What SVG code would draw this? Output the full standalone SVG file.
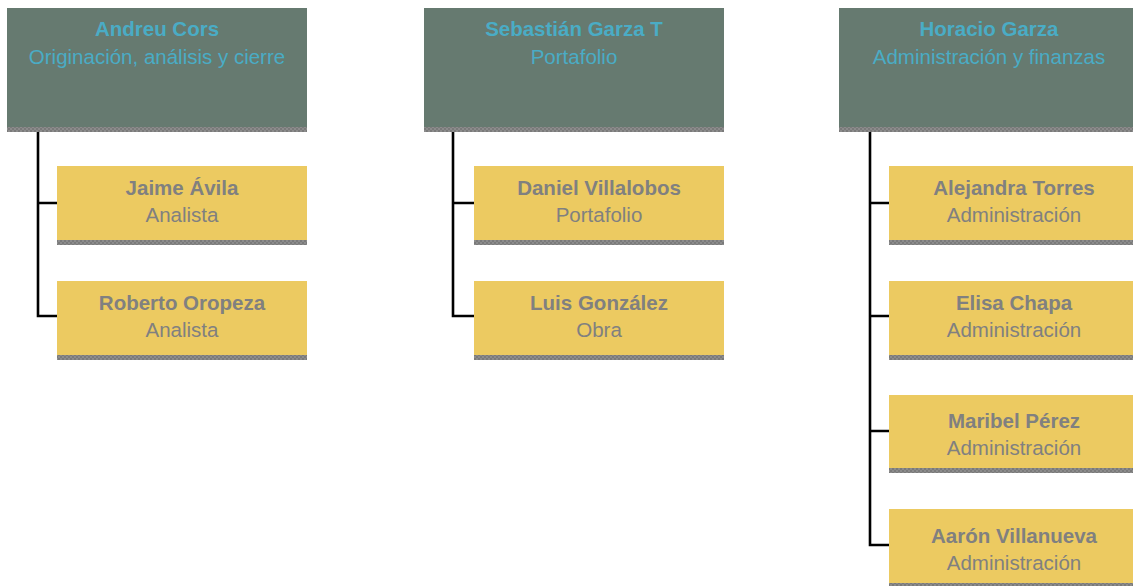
<svg xmlns="http://www.w3.org/2000/svg" width="1133" height="586" viewBox="0 0 1133 586">
<defs>
<pattern id="chk" width="4" height="4" patternUnits="userSpaceOnUse">
<rect width="4" height="4" fill="#8c8c8c"/>
<rect width="2" height="2" fill="#7a7a7a"/>
<rect x="2" y="2" width="2" height="2" fill="#7a7a7a"/>
</pattern>
</defs>
<style>
.top{fill:#667a70}
.child{fill:#ecca61}
.band{fill:url(#chk)}
.tn{font-family:"Liberation Sans",Arial,sans-serif;font-size:20.5px;font-weight:bold;fill:#4aacc5;text-anchor:middle}
.ts{font-family:"Liberation Sans",Arial,sans-serif;font-size:20.5px;fill:#4aacc5;text-anchor:middle}
.cn{font-family:"Liberation Sans",Arial,sans-serif;font-size:20.5px;font-weight:bold;fill:#808080;text-anchor:middle}
.cs{font-family:"Liberation Sans",Arial,sans-serif;font-size:20.5px;fill:#808080;text-anchor:middle}
.ln{fill:none;stroke:#000;stroke-width:2.6}
</style>
<rect width="1133" height="586" fill="#fff"/>
<g id="connectors">
<path class="ln" d="M38 127V316H57M38 203H57"/>
<path class="ln" d="M453 127V316H474M453 203H474"/>
<path class="ln" d="M870 127V545H889M870 203H889M870 316H889M870 431H889"/>
</g>
<g id="andreu-cors">
<rect class="top" x="7" y="8" width="300" height="119"/>
<rect class="band" x="7" y="127" width="300" height="5"/>
<text class="tn" x="157" y="36">Andreu Cors</text>
<text class="ts" x="157" y="64">Originación, análisis y cierre</text>
</g>
<g id="sebastian-garza">
<rect class="top" x="424" y="8" width="300" height="119"/>
<rect class="band" x="424" y="127" width="300" height="5"/>
<text class="tn" x="574" y="36">Sebastián Garza T</text>
<text class="ts" x="574" y="64">Portafolio</text>
</g>
<g id="horacio-garza">
<rect class="top" x="839" y="8" width="300" height="119"/>
<rect class="band" x="839" y="127" width="300" height="5"/>
<text class="tn" x="989" y="36">Horacio Garza</text>
<text class="ts" x="989" y="64">Administración y finanzas</text>
</g>
<g id="jaime-avila">
<rect class="child" x="57" y="166" width="250" height="74"/>
<rect class="band" x="57" y="240" width="250" height="5"/>
<text class="cn" x="182" y="195">Jaime Ávila</text>
<text class="cs" x="182" y="222">Analista</text>
</g>
<g id="roberto-oropeza">
<rect class="child" x="57" y="281" width="250" height="74"/>
<rect class="band" x="57" y="355" width="250" height="5"/>
<text class="cn" x="182" y="310">Roberto Oropeza</text>
<text class="cs" x="182" y="337">Analista</text>
</g>
<g id="daniel-villalobos">
<rect class="child" x="474" y="166" width="250" height="74"/>
<rect class="band" x="474" y="240" width="250" height="5"/>
<text class="cn" x="599" y="195">Daniel Villalobos</text>
<text class="cs" x="599" y="222">Portafolio</text>
</g>
<g id="luis-gonzalez">
<rect class="child" x="474" y="281" width="250" height="74"/>
<rect class="band" x="474" y="355" width="250" height="5"/>
<text class="cn" x="599" y="310">Luis González</text>
<text class="cs" x="599" y="337">Obra</text>
</g>
<g id="alejandra-torres">
<rect class="child" x="889" y="166" width="250" height="74"/>
<rect class="band" x="889" y="240" width="250" height="5"/>
<text class="cn" x="1014" y="195">Alejandra Torres</text>
<text class="cs" x="1014" y="222">Administración</text>
</g>
<g id="elisa-chapa">
<rect class="child" x="889" y="281" width="250" height="74"/>
<rect class="band" x="889" y="355" width="250" height="5"/>
<text class="cn" x="1014" y="310">Elisa Chapa</text>
<text class="cs" x="1014" y="337">Administración</text>
</g>
<g id="maribel-perez">
<rect class="child" x="889" y="395" width="250" height="73"/>
<rect class="band" x="889" y="468" width="250" height="5"/>
<text class="cn" x="1014" y="428">Maribel Pérez</text>
<text class="cs" x="1014" y="455">Administración</text>
</g>
<g id="aaron-villanueva">
<rect class="child" x="889" y="509" width="250" height="74"/>
<rect class="band" x="889" y="583" width="250" height="5"/>
<text class="cn" x="1014" y="543">Aarón Villanueva</text>
<text class="cs" x="1014" y="570">Administración</text>
</g>
</svg>
